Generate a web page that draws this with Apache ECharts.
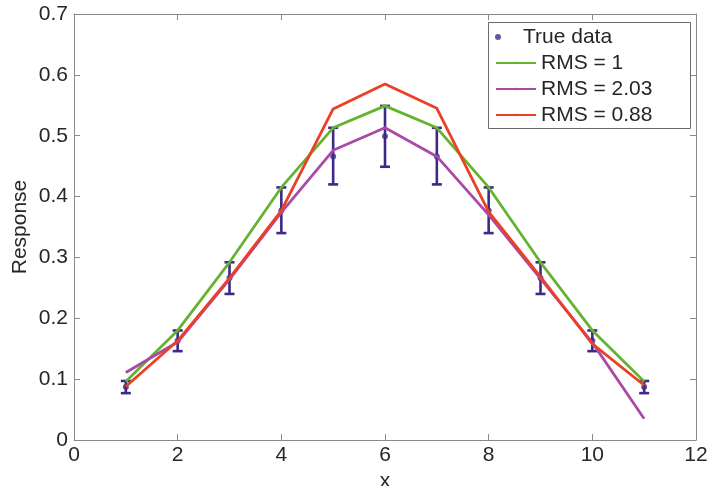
<!DOCTYPE html>
<html>
<head>
<meta charset="utf-8">
<script src="https://cdn.jsdelivr.net/npm/echarts@6/dist/echarts.min.js"></script>
<style>html,body{margin:0;padding:0;background:#fff}#c{width:708px;height:486px}</style>
</head>
<body>
<div id="c"></div>
<script>
const xValues = [1, 2, 3, 4, 5, 6, 7, 8, 9, 10, 11];
const trueData = [0.087, 0.163, 0.266, 0.377, 0.466, 0.499, 0.466, 0.377, 0.266, 0.163, 0.087];
const errLower = [0.077, 0.146, 0.240, 0.340, 0.420, 0.449, 0.420, 0.340, 0.240, 0.146, 0.077];
const errUpper = [0.097, 0.180, 0.292, 0.415, 0.513, 0.549, 0.513, 0.415, 0.292, 0.180, 0.097];
const rms1 = [0.096, 0.180, 0.292, 0.415, 0.513, 0.549, 0.513, 0.415, 0.292, 0.180, 0.096];
const rms203 = [0.111, 0.161, 0.264, 0.374, 0.476, 0.513, 0.466, 0.370, 0.265, 0.160, 0.035];
const rms088 = [0.088, 0.163, 0.266, 0.377, 0.544, 0.585, 0.545, 0.375, 0.268, 0.158, 0.090];
const xTicks = [0, 2, 4, 6, 8, 10, 12];
const yTicks = [0, 0.1, 0.2, 0.3, 0.4, 0.5, 0.6, 0.7];

const FONT = "'Liberation Sans', Arial, Helvetica, sans-serif";
const TXT = '#262626';
const AX = '#8a8a8a';
const C_ERR = '#3d2a86';
const C_G = '#66b332';
const C_M = '#a94aa6';
const C_R = '#ea4026';

const pairs = arr => xValues.map((x, i) => [x, arr[i]]);

const chart = echarts.init(document.getElementById('c'), null, {renderer: 'canvas'});

const axisCommon = {
  axisLine: {show: true, onZero: false, lineStyle: {color: AX, width: 1}},
  axisTick: {show: true, inside: true, length: 6, lineStyle: {color: AX, width: 1}},
  splitLine: {show: false}
};

chart.setOption({
  animation: false,
  backgroundColor: '#fff',
  textStyle: {fontFamily: FONT},
  grid: {left: 74, top: 14, right: 12, bottom: 46, containLabel: false, outerBoundsMode: 'none'},
  xAxis: [
    Object.assign({
      type: 'value', min: xTicks[0], max: xTicks[xTicks.length - 1], interval: 2, position: 'bottom',
      name: 'x', nameLocation: 'middle', nameGap: 25,
      nameTextStyle: {color: TXT, fontSize: 21, fontFamily: FONT},
      axisLabel: {color: TXT, fontSize: 21, margin: 5, fontFamily: FONT}
    }, axisCommon),
    Object.assign({
      type: 'value', min: xTicks[0], max: xTicks[xTicks.length - 1], interval: 2, position: 'top',
      axisLabel: {show: false}
    }, axisCommon)
  ],
  yAxis: [
    Object.assign({
      type: 'value', min: yTicks[0], max: yTicks[yTicks.length - 1], interval: 0.1, position: 'left',
      name: 'Response', nameLocation: 'middle', nameGap: 43, nameRotate: 90, nameMoveOverlap: false,
      nameTextStyle: {color: TXT, fontSize: 21, fontFamily: FONT},
      axisLabel: {color: TXT, fontSize: 21, margin: 6, fontFamily: FONT,
        formatter: v => (Math.round(v * 10) / 10).toString()}
    }, axisCommon),
    Object.assign({
      type: 'value', min: yTicks[0], max: yTicks[yTicks.length - 1], interval: 0.1, position: 'right',
      axisLabel: {show: false}
    }, axisCommon)
  ],
  graphic: [{
    type: 'rect', z: 3,
    shape: {x: 488.5, y: 22.5, width: 202, height: 106},
    style: {fill: '#fff', stroke: '#6a6a6a', lineWidth: 1}
  }],
  legend: [
    {
      data: ['True data'], orient: 'vertical', left: 495, top: 26.5, padding: 0,
      itemWidth: 40, itemHeight: 6, itemGap: 5, z: 5,
      textStyle: {color: TXT, fontSize: 21, lineHeight: 21, fontFamily: FONT}
    },
    {
      data: ['RMS = 1', 'RMS = 2.03', 'RMS = 0.88'], orient: 'vertical', left: 495, top: 52.5, padding: 0,
      itemWidth: 40, itemHeight: 3, itemGap: 5, z: 5,
      textStyle: {color: TXT, fontSize: 21, lineHeight: 21, fontFamily: FONT}
    }
  ],
  series: [
    {
      name: 'errbars', type: 'custom', z: 2,
      data: xValues.map((x, i) => [x, errLower[i], errUpper[i]]),
      renderItem: function (params, api) {
        const x = api.value(0), lo = api.value(1), hi = api.value(2);
        const pLo = api.coord([x, lo]), pHi = api.coord([x, hi]);
        const w = 5;
        const st = {stroke: C_ERR, lineWidth: 2.6};
        return {type: 'group', children: [
          {type: 'line', shape: {x1: pLo[0], y1: pLo[1], x2: pHi[0], y2: pHi[1]}, style: st},
          {type: 'line', shape: {x1: pLo[0] - w, y1: pLo[1], x2: pLo[0] + w, y2: pLo[1]}, style: st},
          {type: 'line', shape: {x1: pHi[0] - w, y1: pHi[1], x2: pHi[0] + w, y2: pHi[1]}, style: st}
        ]};
      }
    },
    {
      name: 'True data', type: 'scatter', z: 2, symbol: 'circle', symbolSize: 6,
      itemStyle: {color: C_ERR}, data: pairs(trueData)
    },
    {
      name: 'RMS = 1', type: 'line', z: 3, symbol: 'none', data: pairs(rms1),
      lineStyle: {color: C_G, width: 2.8}, itemStyle: {color: C_G}
    },
    {
      name: 'RMS = 2.03', type: 'line', z: 3, symbol: 'none', data: pairs(rms203),
      lineStyle: {color: C_M, width: 2.8}, itemStyle: {color: C_M}
    },
    {
      name: 'RMS = 0.88', type: 'line', z: 3, symbol: 'none', data: pairs(rms088),
      lineStyle: {color: C_R, width: 2.8}, itemStyle: {color: C_R}
    }
  ]
});
</script>
</body>
</html>
